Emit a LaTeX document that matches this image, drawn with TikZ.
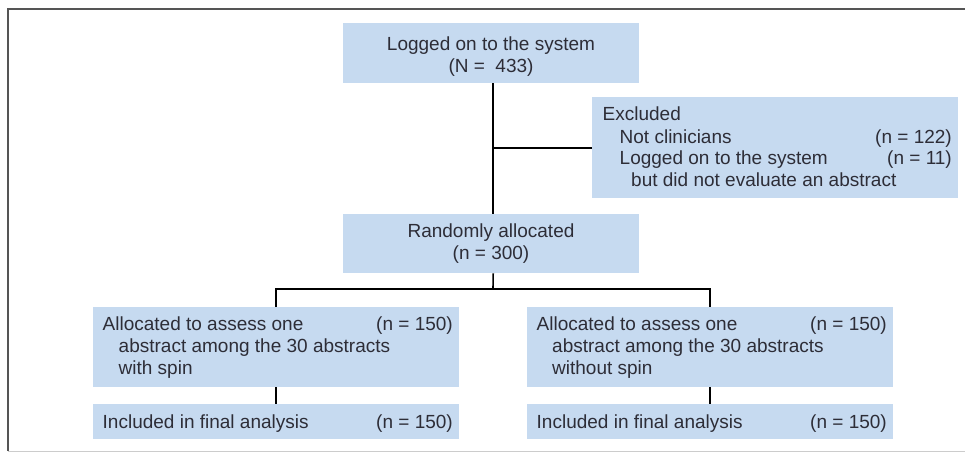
\documentclass[tikz,border=0pt]{standalone}
\usepackage{fontspec}
\setmainfont{Liberation Sans}
\definecolor{boxfill}{RGB}{198,218,240}
\definecolor{txtcol}{RGB}{45,45,55}
\definecolor{framecol}{RGB}{85,85,85}
\begin{document}
\begin{tikzpicture}[x=1pt,y=-1pt,
  box/.style={fill=boxfill,draw=none,inner sep=0pt,anchor=north west},
  txt/.style={text=txtcol,inner sep=0pt,font=\fontsize{19}{22}\selectfont},
  conn/.style={draw=black,line width=1.6pt},
  framestyle/.style={draw=framecol,line width=1.6pt}]
\useasboundingbox (0,0) rectangle (965,453);
% frame
\draw[framestyle] (965,9) -- (8,9) -- (8,451);
\draw[draw=black!20,line width=0.8pt] (8,451) -- (965,451);
% boxes
\node[box,minimum width=296pt,minimum height=60pt] (top) at (343,23) {};
\node[box,minimum width=366pt,minimum height=101pt] (excl) at (592,97) {};
\node[box,minimum width=296pt,minimum height=59pt] (rand) at (343,214) {};
\node[box,minimum width=366pt,minimum height=80pt] (la) at (93,307) {};
\node[box,minimum width=366pt,minimum height=35pt] (li) at (93,404) {};
\node[box,minimum width=366pt,minimum height=80pt] (ra) at (527,307) {};
\node[box,minimum width=366pt,minimum height=35pt] (ri) at (527,404) {};
% texts
\node[txt,anchor=base] (t1) at (491,50) {Logged on to the system};
\node[txt,anchor=base] (t2) at (491,72) {(N =\ \ 433)};
\node[txt,anchor=base west] (e1) at (602.5,120.5) {Excluded};
\node[txt,anchor=base west] (e2) at (619.5,143) {Not clinicians};
\node[txt,anchor=base east] (e3) at (952,143) {(n = 122)};
\node[txt,anchor=base west] (e4) at (619.5,164.5) {Logged on to the system};
\node[txt,anchor=base east] (e5) at (952,164.5) {(n = 11)};
\node[txt,anchor=base west] (e6) at (631,186) {but did not evaluate an abstract};
\node[txt,anchor=base] (r1) at (491,237) {Randomly allocated};
\node[txt,anchor=base] (r2) at (491,259) {(n = 300)};
\node[txt,anchor=base west] (l1) at (102.5,330) {Allocated to assess one};
\node[txt,anchor=base east] (l2) at (453,330) {(n = 150)};
\node[txt,anchor=base west] (l3) at (118.5,352) {abstract among the 30 abstracts};
\node[txt,anchor=base west] (l4) at (118.5,374) {with spin};
\node[txt,anchor=base west] (l5) at (102.5,428) {Included in final analysis};
\node[txt,anchor=base east] (l6) at (453,428) {(n = 150)};
\node[txt,anchor=base west] (q1) at (536.5,330) {Allocated to assess one};
\node[txt,anchor=base east] (q2) at (887,330) {(n = 150)};
\node[txt,anchor=base west] (q3) at (552,352) {abstract among the 30 abstracts};
\node[txt,anchor=base west] (q4) at (552,374) {without spin};
\node[txt,anchor=base west] (q5) at (536.5,428) {Included in final analysis};
\node[txt,anchor=base east] (q6) at (887,428) {(n = 150)};
% connectors
\coordinate (split) at (493,289);
\draw[conn] ([xshift=2pt]top.south) -- ([xshift=2pt]rand.north);
\draw[conn] (excl.west) -- (excl.west -| split);
\draw[conn] ([xshift=2pt]rand.south) -- (split);
\draw[conn] (la.north) -- (la.north |- split) -- (ra.north |- split) -- (ra.north);
\draw[conn] (la.south) -- (li.north);
\draw[conn] (ra.south) -- (ri.north);
\end{tikzpicture}
\end{document}
